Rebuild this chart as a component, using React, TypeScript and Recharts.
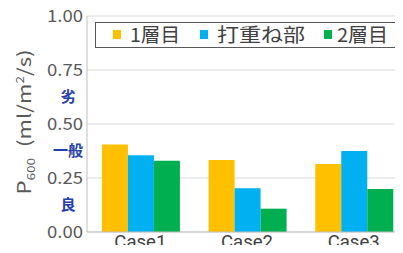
import React from "react";
import { BarChart, Bar, XAxis, YAxis, CartesianGrid, Legend, ReferenceLine } from "recharts";

const categories = ["Case1", "Case2", "Case3"];
const layer1 = [0.405, 0.333, 0.315];
const overlap = [0.355, 0.203, 0.375];
const layer2 = [0.33, 0.108, 0.199];
const seriesNames = ["1層目", "打重ね部", "2層目"];
const yTicks = [0, 0.25, 0.5, 0.75, 1.0];
const ratingLabels = ["劣", "一般", "良"];
const ratingValues = [0.625, 0.375, 0.125];

const colors = ["#FFC000", "#00B0F0", "#00B050"];
const FONT = "'Noto Sans CJK JP', 'Noto Sans', sans-serif";

const data = categories.map((c, i) => ({
  name: c,
  s1: layer1[i],
  s2: overlap[i],
  s3: layer2[i],
}));

const YTick = (props: any) => {
  const { y, payload } = props;
  return (
    <text
      x={47}
      y={y}
      dy={6}
      textAnchor="start"
      fill="#595959"
      fontSize={17}
      fontFamily={FONT}
      textLength={36}
      lengthAdjust="spacingAndGlyphs"
    >
      {payload.value.toFixed(2)}
    </text>
  );
};

const XTick = (props: any) => {
  const { x, payload } = props;
  return (
    <text
      x={x}
      y={248}
      textAnchor="middle"
      fill="#404040"
      fontSize={19}
      fontFamily="Roboto, 'Noto Sans', sans-serif"
      textLength={52}
      lengthAdjust="spacingAndGlyphs"
    >
      {payload.value}
    </text>
  );
};

const LegendContent = () => {
  const pos = [
    { sq: 17, tx: 34, w: 50 },
    { sq: 104, tx: 121, w: 88 },
    { sq: 228, tx: 241, w: 51 },
  ];
  return (
    <div
      style={{
        position: "relative",
        width: 305,
        height: 24,
        border: "1.5px solid #595959",
        background: "#fff",
        fontFamily: FONT,
      }}
    >
      {seriesNames.map((n, i) => (
        <React.Fragment key={n}>
          <div
            style={{
              position: "absolute",
              left: pos[i].sq,
              top: 7,
              width: 8,
              height: 9,
              background: colors[i],
            }}
          />
          <svg
            style={{ position: "absolute", left: pos[i].tx, top: 0, overflow: "visible" }}
            width={pos[i].w}
            height={24}
          >
            <text
              x={0}
              y={19}
              fontSize={19}
              fill="#404040"
              fontFamily={FONT}
              textLength={pos[i].w}
              lengthAdjust="spacingAndGlyphs"
            >
              {n}
            </text>
          </svg>
        </React.Fragment>
      ))}
    </div>
  );
};

const RatingLabel = (text: string) => (props: any) => {
  const { viewBox } = props;
  return (
    <text x={68} y={viewBox.y} dy={5} textAnchor="middle" fill="#2440a8" fontSize={15} fontWeight="bold" fontFamily={FONT}>
      {text}
    </text>
  );
};

const YLabel = () => (
  <text
    x={0}
    y={0}
    transform="translate(31,122) rotate(-90)"
    textAnchor="middle"
    fill="#595959"
    fontSize={18}
    fontFamily={FONT}
    textLength={145}
    lengthAdjust="spacingAndGlyphs"
  >
    <tspan>P</tspan>
    <tspan fontSize={11} dy={4}>600</tspan>
    <tspan dy={-4}>{"\u2002(ml/m"}</tspan>
    <tspan fontSize={11} dy={-7}>2</tspan>
    <tspan dy={7}>/s)</tspan>
  </text>
);

export default function App() {
  return (
    <div style={{ margin: -8, width: 403, height: 253, overflow: "hidden", background: "#fff", position: "relative" }}>
      <BarChart
        width={410}
        height={253}
        data={data}
        margin={{ top: 16, right: 3, bottom: 0, left: 0 }}
        barCategoryGap="14%"
        barGap={0}
      >
        <CartesianGrid horizontal={true} vertical={false} stroke="#d9d9d9" strokeWidth={1} />
        <XAxis
          dataKey="name"
          height={21}
          tickLine={false}
          axisLine={{ stroke: "#bfbfbf" }}
          tick={<XTick />}
          tickSize={0}
        />
        <YAxis
          width={87}
          domain={[0, 1]}
          ticks={yTicks}
          tickLine={false}
          axisLine={{ stroke: "#bfbfbf" }}
          tick={<YTick />}
          label={<YLabel />}
          interval={0}
        />
        {ratingValues.map((v, i) => (
          <ReferenceLine key={v} y={v} stroke="none" ifOverflow="visible" label={RatingLabel(ratingLabels[i])} />
        ))}
        <Legend
          layout="horizontal"
          verticalAlign="middle"
          align="center"
          wrapperStyle={{ position: "absolute", top: 22, left: 95, width: 310, height: 28 }}
          content={<LegendContent />}
        />
        <Bar dataKey="s1" name={seriesNames[0]} fill={colors[0]} isAnimationActive={false} />
        <Bar dataKey="s2" name={seriesNames[1]} fill={colors[1]} isAnimationActive={false} />
        <Bar dataKey="s3" name={seriesNames[2]} fill={colors[2]} isAnimationActive={false} />
      </BarChart>
    </div>
  );
}
